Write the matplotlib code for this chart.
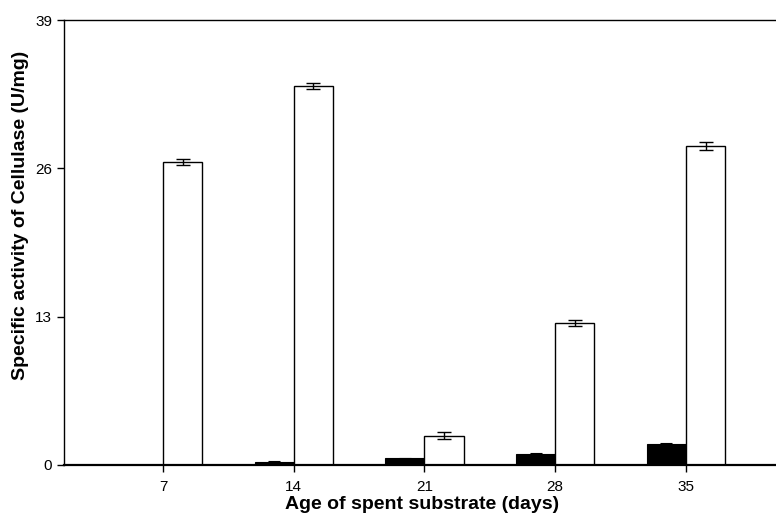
import matplotlib.pyplot as plt
import numpy as np

plt.rcParams['font.family'] = ['Liberation Sans', 'DejaVu Sans']

# data
days = [7, 14, 21, 28, 35]
black_vals = [0.0, 0.3, 0.6, 1.0, 1.85]
black_err = [0.0, 0.05, 0.05, 0.05, 0.05]
white_vals = [26.55, 33.2, 2.55, 12.45, 27.95]
white_err = [0.3, 0.25, 0.3, 0.3, 0.35]

fig = plt.figure(figsize=(7.76, 5.13), dpi=100)
ax = fig.add_axes([64 / 776, 1 - 465 / 513, (776 - 64) / 776, (465 - 20) / 513])

w = 2.1
x = np.array(days, dtype=float)

ax.bar(x - w / 2, black_vals, width=w, color='black', edgecolor='black', linewidth=0.8,
       yerr=black_err, capsize=4, error_kw=dict(elinewidth=0.8, capthick=0.8, ecolor='black'))
ax.bar(x + w / 2, white_vals, width=w, color='white', edgecolor='black', linewidth=1.0,
       yerr=white_err, capsize=5, error_kw=dict(elinewidth=1.0, capthick=1.0, ecolor='black'))

ax.set_xlim(1.7, 39.82)
ax.set_ylim(0, 39)
ax.set_xticks(days)
ax.set_yticks([0, 13, 26, 39])
ax.tick_params(direction='out', length=5, width=1, labelsize=11)
ax.tick_params(axis='x', pad=6)

ax.spines['right'].set_visible(False)
ax.spines['bottom'].set_linewidth(1.6)
ax.spines['left'].set_linewidth(1.0)
ax.spines['top'].set_linewidth(1.0)

ax.set_xlabel('Age of spent substrate (days)', fontsize=14, fontweight='bold')
ax.xaxis.set_label_coords(0.5035, -0.0697)
ax.set_ylabel('Specific activity of Cellulase (U/mg)', fontsize=14, fontweight='bold')
ax.yaxis.set_label_coords(-0.049, 0.562)

plt.savefig('out.png', dpi=100)
plt.close()
